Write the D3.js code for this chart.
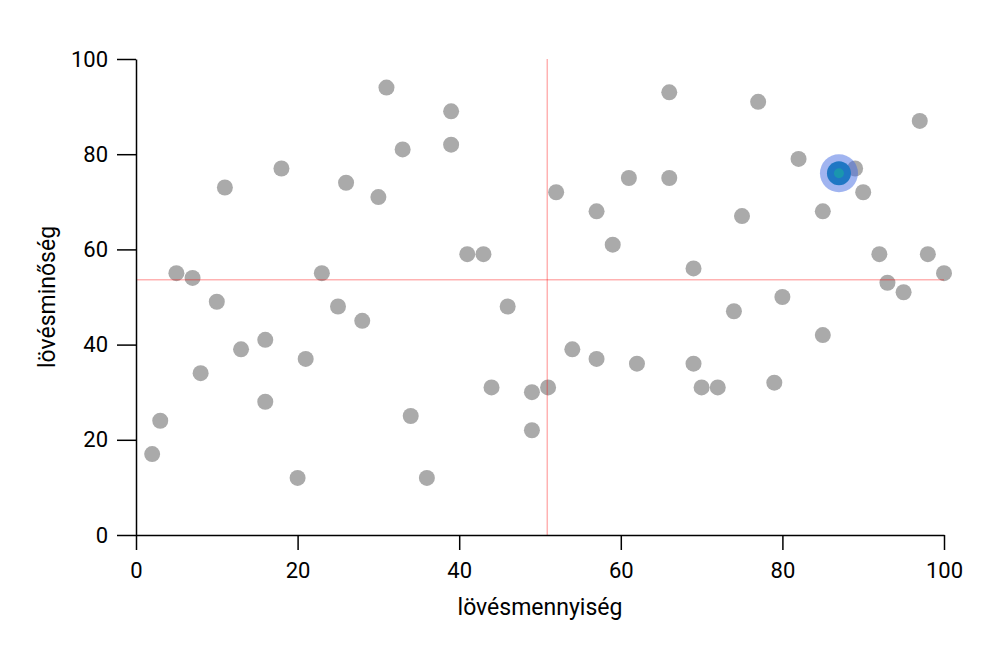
<!DOCTYPE html>
<html>
<head>
<meta charset="utf-8">
<script src="https://cdn.jsdelivr.net/npm/d3@7"></script>
<style>
  body { margin: 0; background: #fff; }
  svg { font-family: Roboto, sans-serif; }
</style>
</head>
<body>
<svg id="chart" width="1000" height="648"></svg>
<script>
const xValues = [2,3,5,7,8,10,11,13,16,16,18,20,21,23,25,26,28,30,31,33,34,36,39,39,41,43,44,46,49,49,51,52,54,57,57,59,61,62,66,66,69,69,70,72,74,75,77,79,80,82,85,85,87,89,90,92,93,95,97,98,100];
const yValues = [17,24,55,54,34,49,73,39,41,28,77,12,37,55,48,74,45,71,94,81,25,12,89,82,59,59,31,48,30,22,31,72,39,68,37,61,75,36,93,75,56,36,31,31,47,67,91,32,50,79,68,42,76,77,72,59,53,51,87,59,55];
const highlight = [87, 76];
const avgX = 50.9;
const avgY = 53.6;
const xTicks = [0,20,40,60,80,100];
const yTicks = [0,20,40,60,80,100];
const xLabel = "lövésmennyiség";
const yLabel = "lövésminőség";

const svg = d3.select("#chart");
const mLeft = 136, mRight = 944, mTop = 59, mBottom = 535;

const x = d3.scaleLinear().domain([0,100]).range([mLeft, mRight]);
const y = d3.scaleLinear().domain([0,100]).range([mBottom, mTop]);

const data = xValues.map((v,i) => ({x: v, y: yValues[i]}));

// dots
svg.append("g").selectAll("circle").data(data).join("circle")
  .attr("cx", d => x(d.x)).attr("cy", d => y(d.y))
  .attr("r", 8).attr("fill", "#aaaaaa");

// highlight
const hg = svg.append("g");
hg.append("circle").attr("cx", x(highlight[0])).attr("cy", y(highlight[1]))
  .attr("r", 19).attr("fill", "rgb(65,105,225)").attr("fill-opacity", 0.5);
hg.append("circle").attr("cx", x(highlight[0])).attr("cy", y(highlight[1]))
  .attr("r", 12).attr("fill", "#1f77c4");
hg.append("circle").attr("cx", x(highlight[0])).attr("cy", y(highlight[1]))
  .attr("r", 5).attr("fill", "#1a96ae");

// average lines
svg.append("line")
  .attr("x1", x(avgX)).attr("x2", x(avgX))
  .attr("y1", y(100)).attr("y2", y(0))
  .attr("stroke", "red").attr("stroke-opacity", 0.3).attr("stroke-width", 1.5);
svg.append("line")
  .attr("x1", x(0)).attr("x2", x(100))
  .attr("y1", y(avgY)).attr("y2", y(avgY))
  .attr("stroke", "red").attr("stroke-opacity", 0.3).attr("stroke-width", 1.5);

// axes
const xAxis = svg.append("g").attr("transform", `translate(0,${mBottom})`)
  .call(d3.axisBottom(x).tickValues(xTicks).tickSizeInner(15).tickSizeOuter(0).tickPadding(12));
const yAxis = svg.append("g").attr("transform", `translate(${mLeft},0)`)
  .call(d3.axisLeft(y).tickValues(yTicks).tickSizeInner(19).tickSizeOuter(0).tickPadding(9));

[xAxis, yAxis].forEach(g => {
  g.selectAll("path, line").attr("stroke", "#000").attr("stroke-width", 1.5);
  g.selectAll("text").attr("font-size", 22).attr("font-family", "Roboto, sans-serif").attr("fill", "#000");
});

svg.append("text").attr("x", (mLeft+mRight)/2).attr("y", 615)
  .attr("text-anchor", "middle").attr("font-size", 23).attr("fill", "#000")
  .text(xLabel);
svg.append("text").attr("transform", `translate(55,${(mTop+mBottom)/2}) rotate(-90)`)
  .attr("text-anchor", "middle").attr("font-size", 23).attr("fill", "#000")
  .text(yLabel);
</script>
</body>
</html>
